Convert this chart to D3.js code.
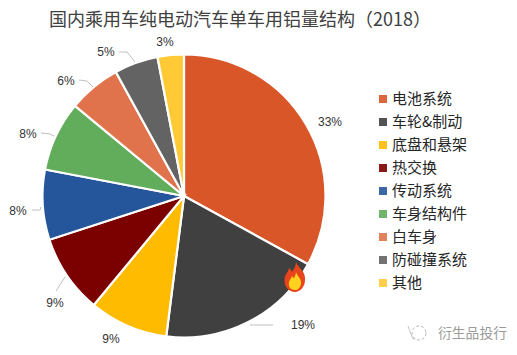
<!DOCTYPE html>
<html>
<head>
<meta charset="utf-8">
<script src="https://cdn.jsdelivr.net/npm/d3@7"></script>
<style>
  html, body { margin: 0; padding: 0; background: #fff; }
  svg { display: block; }
  text { font-family: "Noto Sans CJK SC", "Noto Sans", sans-serif; fill: #404040; }
  .title { font-size: 18px; }
  .legend-label { font-size: 15px; fill: #262626; }
  .pct { font-family: "Liberation Sans", sans-serif; font-size: 12px; fill: #333; }
  .leader { fill: none; stroke: #bfbfbf; stroke-width: 1; }
  .watermark { font-size: 13.8px; fill: #9a9a9a; }
</style>
</head>
<body>
<svg width="517" height="355"></svg>
<script>
const titleText = '国内乘用车纯电动汽车单车用铝量结构（2018）';
const categories = ['电池系统', '车轮&制动', '底盘和悬架', '热交换', '传动系统', '车身结构件', '白车身', '防碰撞系统', '其他'];
const shares = [33, 19, 9, 9, 8, 8, 6, 5, 3];
const colors = ['#d85628', '#404040', '#ffbb00', '#7b0000', '#25569b', '#62ad5c', '#e0734c', '#636363', '#ffca35'];

// hand placed data labels and leader lines, same order as categories
const labelSpots = [[330, 122], [303, 325], [111, 339], [55, 303], [18, 211], [28, 134], [66, 81], [106, 52], [165, 42]];
const leaders = [
  null,
  [[250, 325], [273, 325]],
  null,
  [[56, 291], [65, 277]],
  [[32, 210], [40, 210], [41, 207]],
  [[41, 133], [50, 134], [54, 136]],
  [[79, 80], [87, 81], [93, 87]],
  [[119, 52], [127, 52], [135, 62]],
  null
];

const svg = d3.select('svg');
const center = { x: 184, y: 196 };
const radius = 141.5;

svg.append('text')
  .attr('class', 'title')
  .attr('x', 49)
  .attr('y', 26)
  .text(titleText);

const pie = d3.pie().sort(null).value(d => d);
const arc = d3.arc().innerRadius(0).outerRadius(radius);

svg.append('g')
  .attr('transform', `translate(${center.x},${center.y})`)
  .selectAll('path')
  .data(pie(shares)).enter()
  .append('path')
    .attr('d', arc)
    .attr('fill', (d, i) => colors[i])
    .attr('stroke', '#fff')
    .attr('stroke-width', 2.2);

// leader lines
const line = d3.line();
svg.append('g')
  .selectAll('path')
  .data(leaders.filter(d => d)).enter()
  .append('path')
    .attr('class', 'leader')
    .attr('d', line);

// percent labels
svg.append('g')
  .selectAll('text')
  .data(shares).enter()
  .append('text')
    .attr('class', 'pct')
    .attr('x', (d, i) => labelSpots[i][0])
    .attr('y', (d, i) => labelSpots[i][1])
    .attr('text-anchor', 'middle')
    .attr('dy', '0.35em')
    .text(d => d + '%');

// legend
const legendY = d3.scalePoint().domain(categories).range([99, 283]);
const legend = svg.append('g')
  .selectAll('g')
  .data(categories).enter()
  .append('g')
    .attr('transform', d => `translate(379,${legendY(d)})`);

legend.append('rect')
  .attr('y', -4)
  .attr('width', 8)
  .attr('height', 8)
  .attr('fill', (d, i) => colors[i])
  .attr('opacity', 0.9);

legend.append('text')
  .attr('class', 'legend-label')
  .attr('x', 13)
  .attr('dy', '0.36em')
  .text(d => d);

// flame sticker on the pie edge
const flame = svg.append('g').attr('transform', 'translate(295,277)');
flame.append('path')
  .attr('d', 'M1,-15 C3,-9 11,-6 10,3 C10,10 5,15 0,15 C-6,15 -11,10 -10.5,2 C-10,-3 -7,-4 -6,-9 C-4,-7 -3,-6 -3,-5 C-1,-8 1,-11 1,-15 Z')
  .attr('fill', '#e8451c');
flame.append('path')
  .attr('d', 'M1,-5 C2,-1 7,2 6,7 C5,11 3,13 0,13 C-4,13 -7,10 -6,5 C-5,2 -4,2 -3,-1 C-2,0 -2,1 -1,1 C0,-1 1,-3 1,-5 Z')
  .attr('fill', '#ffd21f');

// watermark
const mark = svg.append('g').attr('transform', 'translate(417,333)');
mark.append('circle').attr('cx', 2).attr('cy', 0).attr('r', 7)
  .attr('fill', 'none').attr('stroke', '#b5b5b5').attr('stroke-width', 1).attr('stroke-dasharray', '3 2');
mark.append('path').attr('d', 'M-9,-7 C-7,-2 -6,3 -3,7').attr('fill', 'none').attr('stroke', '#c5c5c5').attr('stroke-width', 1);
svg.append('text')
  .attr('class', 'watermark')
  .attr('x', 438)
  .attr('y', 338)
  .text('衍生品投行');
</script>
</body>
</html>
